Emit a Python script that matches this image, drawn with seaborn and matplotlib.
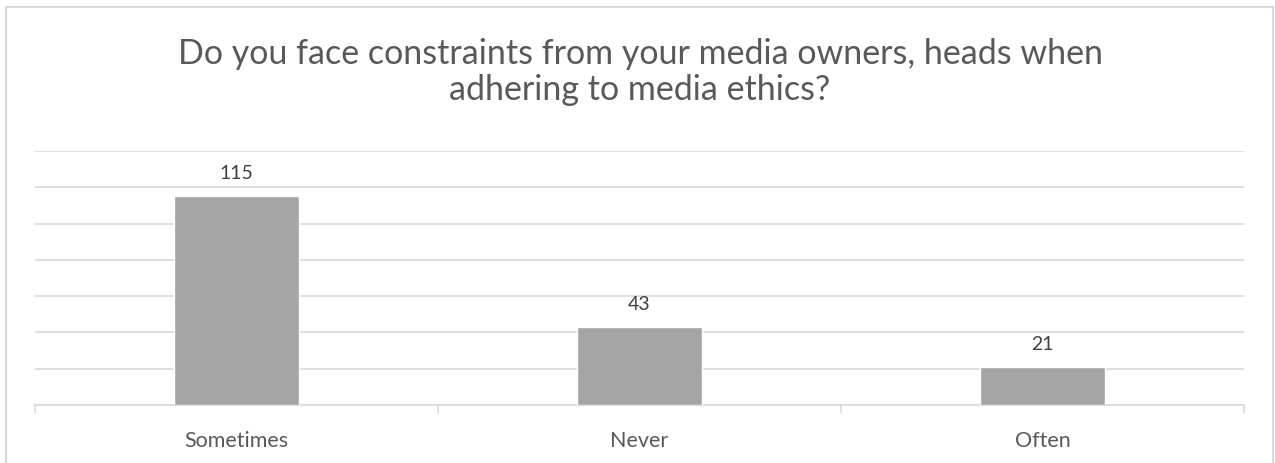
import matplotlib
matplotlib.use("Agg")
import matplotlib.pyplot as plt
import seaborn as sns
import pandas as pd
from matplotlib.patches import Rectangle

categories = ["Sometimes", "Never", "Often"]
counts = [115, 43, 21]
title = "Do you face constraints from your media owners, heads when\nadhering to media ethics?"

sns.set_theme(style="white")
plt.rcParams["font.family"] = ["Lato", "DejaVu Sans"]

df = pd.DataFrame({"category": categories, "count": counts})

fig = plt.figure(figsize=(12.75, 4.64), dpi=100)
ax = fig.add_axes([35 / 1275, 1 - 406 / 464, (1244 - 35) / 1275, (406 - 152) / 464])

# Chart-area border
fig.patches.append(Rectangle((6 / 1275, -0.01), (1273 - 6) / 1275, 1 - 8 / 464 + 0.01,
                             transform=fig.transFigure, fill=False,
                             edgecolor="#D9D9D9", linewidth=1.5))

sns.barplot(data=df, x="category", y="count", color="#A5A5A5", width=0.31,
            saturation=1, ax=ax, zorder=3)

ax.set_ylim(0, 140)
ax.set_xlim(-0.5, 2.5)
ax.set_yticks(range(0, 141, 20))
ax.yaxis.grid(True, color="#D9D9D9", linewidth=1.2, zorder=0)
ax.set_yticklabels([])
ax.tick_params(axis="y", length=0)
for s in ["top", "right", "left"]:
    ax.spines[s].set_visible(False)
ax.spines["bottom"].set_color("#D9D9D9")
ax.spines["bottom"].set_linewidth(1.2)

# Category separator ticks below the axis line
ax.set_xticks([-0.5, 0.5, 1.5, 2.5], minor=True)
ax.tick_params(axis="x", which="minor", length=6, color="#D9D9D9", width=1.2, bottom=True)
ax.tick_params(axis="x", which="major", length=0, pad=18, labelsize=15.5, labelcolor="#595959")
ax.set_xlabel("")
ax.set_ylabel("")

for c in ax.containers:
    ax.bar_label(c, labels=[str(v) for v in counts], padding=11, fontsize=14, color="#404040")

fig.text(0.502, 1 - 72 / 464, title, ha="center", va="center", fontsize=24.5,
         color="#595959", linespacing=1.12)

fig.savefig("out.png", dpi=100)
